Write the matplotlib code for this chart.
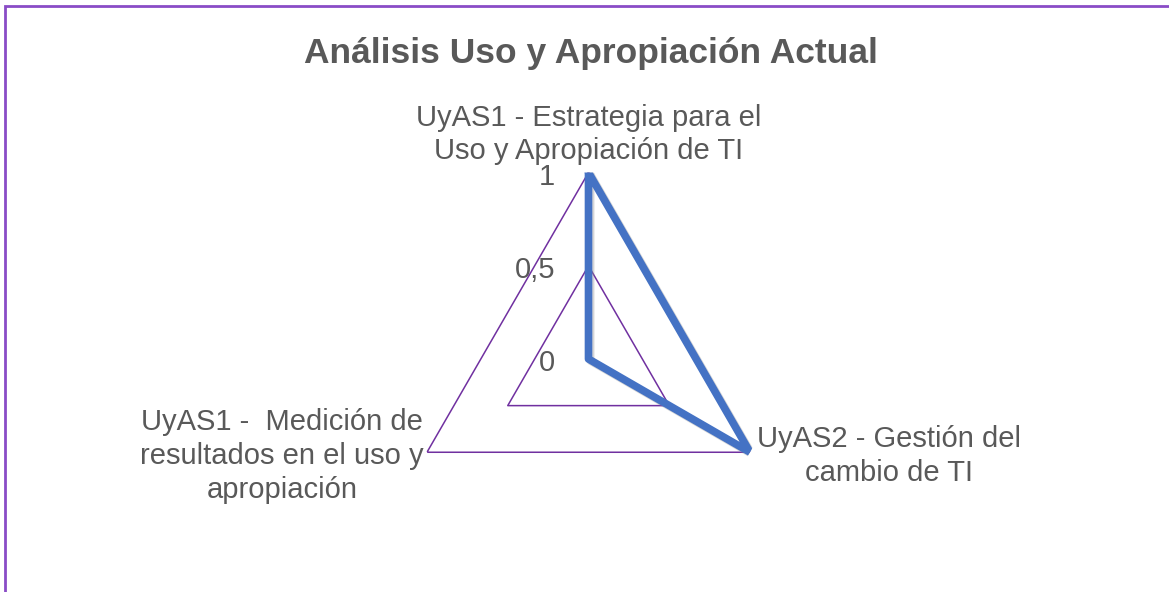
import numpy as np
import matplotlib
matplotlib.use("Agg")
import matplotlib.pyplot as plt
from matplotlib.patches import Rectangle
from matplotlib.transforms import ScaledTranslation

title = "Análisis Uso y Apropiación Actual"
categories = [
    "UyAS1 - Estrategia para el\nUso y Apropiación de TI",
    "UyAS2 - Gestión del\ncambio de TI",
    "UyAS1 -  Medición de\nresultados en el uso y\napropiación",
]
values = [1, 1, 0]
grid_levels = [0, 0.5, 1]
tick_labels = ["0", "0,5", "1"]

W, H = 1169, 592
plt.rcParams['font.family'] = ['Liberation Sans', 'DejaVu Sans']
fig = plt.figure(figsize=(W / 100, H / 100), dpi=100)

text_color = "#595959"
grid_color = "#7030A0"
line_color = "#4472C4"

# figure border (purple, top & left visible)
fig.patches.append(Rectangle((5 / W, -0.05), 1.2, (H - 6) / H + 0.05,
                             transform=fig.transFigure, fill=False,
                             edgecolor="#8A4CC6", linewidth=2, zorder=0))

cx, cy, R = 588.5, 359.0, 186.5
ax = fig.add_axes([(cx - R) / W, (H - cy - R) / H, 2 * R / W, 2 * R / H],
                  projection="polar")
ax.set_theta_offset(np.pi / 2)
ax.set_theta_direction(-1)
ax.set_ylim(0, 1)
ax.grid(False)
ax.spines["polar"].set_visible(False)
ax.set_xticks([])
ax.set_yticks([])
ax.patch.set_alpha(0)

n = len(categories)
theta = np.arange(n) * 2 * np.pi / n
theta_c = np.append(theta, theta[0])

for lvl in grid_levels:
    if lvl > 0:
        ax.plot(theta_c, [lvl] * (n + 1), color=grid_color, lw=1.1, zorder=1)

vals_c = np.append(values, values[0])
# soft shadow
ax.plot(theta_c, vals_c, color="#8c8c8c", lw=5.5, alpha=0.35, zorder=2,
        solid_joinstyle="round", solid_capstyle="round",
        transform=ax.transData + ScaledTranslation(1.5 / 72, -1.5 / 72, fig.dpi_scale_trans))
ax.plot(theta_c, vals_c, color=line_color, lw=5.5, zorder=3,
        solid_joinstyle="round", solid_capstyle="round")

for lvl, lab in zip(grid_levels, tick_labels):
    ax.annotate(lab, xy=(0, lvl), xytext=(-24, -3), textcoords="offset points",
                ha="right", va="center", fontsize=21, color=text_color)

fig.text(591 / W, 1 - 54 / H, title, ha="center", va="center",
         fontsize=25.5, fontweight="bold", color=text_color)

fig.text(589 / W, 1 - 134.5 / H, categories[0], ha="center", va="center",
         fontsize=21, color=text_color, linespacing=1.25)
fig.text(889 / W, 1 - 456 / H, categories[1], ha="center", va="center",
         fontsize=21, color=text_color, linespacing=1.25)
fig.text(282 / W, 1 - 456 / H, categories[2], ha="center", va="center",
         fontsize=21, color=text_color, linespacing=1.25)

fig.savefig("out.png", dpi=100)
